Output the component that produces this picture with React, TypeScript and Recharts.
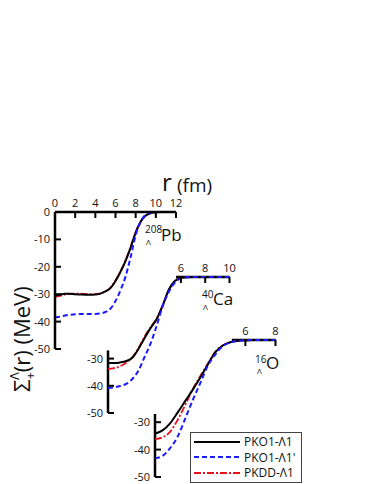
import React from 'react';
import { LineChart, Line, XAxis, YAxis, ReferenceLine, Legend } from 'recharts';

const W = 374;
const H = 484;
const FONT = '"Open Sans", "DejaVu Sans", sans-serif';

// r grids (fm)
const rPb = [0, 0.5, 1, 1.5, 2, 2.5, 3, 3.5, 4, 4.5, 5, 5.5, 6, 6.5, 7, 7.5, 8, 8.5, 9, 9.5, 10, 10.5, 11, 11.5, 12];
const rCa = [0, 0.5, 1, 1.5, 2, 2.5, 3, 3.5, 4, 4.5, 5, 5.5, 6, 6.5, 7, 7.5, 8, 8.5, 9, 9.5, 10];
const rO = [0, 0.5, 1, 1.5, 2, 2.5, 3, 3.5, 4, 4.5, 5, 5.5, 6, 6.5, 7, 7.5, 8];

// 208Pb
const pbPko1 = [-30.5, -30.2, -29.8, -29.8, -30, -30.1, -30.2, -30.2, -30.1, -29.8, -29, -27.8, -25.2, -21.8, -17.8, -13, -7.5, -3.5, -1.3, -0.4, -0.1, 0, 0, 0, 0];
const pbPko1p = [-38.5, -38.2, -37.8, -37.5, -37.3, -37.2, -37.2, -37.2, -37.2, -37, -36.5, -35.3, -32.5, -28.5, -23.5, -16.5, -8.5, -3.5, -1, -0.3, 0, 0, 0, 0, 0];
const pbPkdd = [-31, -30.6, -30.1, -29.9, -29.8, -29.8, -29.9, -30, -30, -29.7, -29, -27.6, -25, -21.6, -17.6, -12.8, -7.4, -3.5, -1.3, -0.4, -0.1, 0, 0, 0, 0];

// 40Ca
const caPko1 = [-31.6, -31.6, -31.4, -30.9, -29.7, -26.5, -22.5, -18.8, -15.5, -10.5, -4.7, -1.5, -0.4, -0.1, 0, 0, 0, 0, 0, 0, 0];
const caPko1p = [-40.8, -40.6, -40.1, -39.3, -37.5, -34.5, -29.5, -24.5, -18, -10.7, -5.5, -2.1, -0.5, -0.1, 0, 0, 0, 0, 0, 0, 0];
const caPkdd = [-33.8, -33.5, -32.8, -31.5, -29.5, -26.2, -22, -18.5, -15.3, -10.5, -4.8, -1.5, -0.4, -0.1, 0, 0, 0, 0, 0, 0, 0];

// 16O
const oPko1 = [-34.2, -33, -30.4, -26.5, -22.3, -18.2, -13.8, -9, -4.5, -2, -0.8, -0.3, -0.1, 0, 0, 0, 0];
const oPko1p = [-43.2, -42.3, -39.5, -35.3, -28.8, -22, -15.8, -9.5, -5.3, -2.3, -0.8, -0.3, -0.1, 0, 0, 0, 0];
const oPkdd = [-36.2, -35.5, -33.5, -29.2, -23.8, -18, -13.2, -8.7, -4.3, -2, -0.8, -0.3, -0.1, 0, 0, 0, 0];

const series = [
  { key: 'a', name: 'PKO1-\u039B1', color: '#000000', dash: undefined as string | undefined, width: 2 },
  { key: 'b', name: "PKO1-\u039B1'", color: '#1a1aff', dash: '5 3', width: 2 },
  { key: 'c', name: 'PKDD-\u039B1', color: '#e8101a', dash: '7 2 2 2', width: 1.8 },
];

const toRows = (r: number[], a: number[], b: number[], c: number[]) =>
  r.map((x, i) => ({ r: x, a: a[i], b: b[i], c: c[i] }));

const AXIS = { stroke: '#000', strokeWidth: 2.5 };
const TICK = { stroke: '#000', strokeWidth: 2 };
const TICK_TEXT = { fontSize: 11, fill: '#111', fontFamily: FONT };

type PanelProps = {
  rows: any[];
  xMax: number;
  x0: number; x1: number; y0: number; y1: number;
  xTicks: number[]; yTicks: number[];
  xSeg?: [number, number];
  ySeg?: [number, number];
  legend?: boolean;
};

const LegendBox = () => (
  <div style={{ border: '1.5px solid #444', background: '#fff', padding: '1px 6px 1px 3px', fontFamily: FONT, fontSize: 12, lineHeight: '15px', color: '#111' }}>
    {series.map(s => (
      <div key={s.key} style={{ display: 'flex', alignItems: 'center', height: 15.5 }}>
        <svg width={46} height={10} style={{ marginRight: 4 }}>
          <line x1={0} y1={5} x2={46} y2={5} stroke={s.color} strokeWidth={s.width} strokeDasharray={s.dash} />
        </svg>
        <span>{s.name}</span>
      </div>
    ))}
  </div>
);

// axes get 1px of room (recharts drops zero-sized axes), the rest is margin
const Panel: React.FC<PanelProps> = p => (
  <div style={{ position: 'absolute', left: 0, top: 0 }}>
    <LineChart width={W} height={H} data={p.rows}
      margin={{ left: p.x0 - 1, right: W - p.x1, top: p.y0 - 1, bottom: H - p.y1 }}>
      <XAxis dataKey="r" type="number" domain={[0, p.xMax]} orientation="top" ticks={p.xTicks} interval={0}
        height={1} tickSize={-6} tickMargin={11} axisLine={p.xSeg ? false : AXIS} tickLine={TICK} tick={TICK_TEXT} />
      <YAxis type="number" domain={[-50, 0]} ticks={p.yTicks} interval={0}
        width={1} tickSize={-6} tickMargin={11} axisLine={p.ySeg ? false : AXIS} tickLine={TICK} tick={TICK_TEXT} />
      {p.xSeg && (
        <ReferenceLine segment={[{ x: p.xSeg[0], y: 0 }, { x: p.xSeg[1], y: 0 }]} stroke="#000" strokeWidth={2.5} ifOverflow="visible" />
      )}
      {p.ySeg && (
        <ReferenceLine segment={[{ x: 0, y: p.ySeg[0] }, { x: 0, y: p.ySeg[1] }]} stroke="#000" strokeWidth={2.5} ifOverflow="visible" />
      )}
      {[series[2], series[0], series[1]].map(s => (
        <Line key={s.key} type="monotone" dataKey={s.key} name={s.name} stroke={s.color} strokeWidth={s.width}
          strokeDasharray={s.dash} dot={false} isAnimationActive={false} />
      ))}
      {p.legend && (
        <Legend layout="vertical" align="center" verticalAlign="middle" content={() => <LegendBox />}
          wrapperStyle={{ left: 190, top: 432, width: 'auto', height: 'auto' }} />
      )}
    </LineChart>
  </div>
);

export default function App() {
  return (
    <div style={{ position: 'absolute', left: 0, top: 0, width: W, height: H, background: '#fff', overflow: 'hidden' }}>
      <Panel rows={toRows(rPb, pbPko1, pbPko1p, pbPkdd)} xMax={12} x0={55} x1={176} y0={212} y1={349}
        xTicks={[0, 2, 4, 6, 8, 10, 12]} yTicks={[0, -10, -20, -30, -40, -50]} />
      <Panel rows={toRows(rCa, caPko1, caPko1p, caPkdd)} xMax={10} x0={108} x1={229.5} y0={277} y1={413}
        xTicks={[6, 8, 10]} yTicks={[-30, -40, -50]} xSeg={[5.6, 10]} ySeg={[-27, -50]} />
      <Panel rows={toRows(rO, oPko1, oPko1p, oPkdd)} xMax={8} x0={155} x1={275.5} y0={340} y1={477}
        xTicks={[6, 8]} yTicks={[-30, -40, -50]} xSeg={[5.1, 8]} ySeg={[-27, -50]} legend />
      <svg width={W} height={H} style={{ position: 'absolute', left: 0, top: 0, pointerEvents: 'none' }} fontFamily={FONT} fill="#111">
        <text x={162} y={191} fontSize={24}>r</text>
        <text x={177} y={192} fontSize={19}>(fm)</text>
        <text transform="translate(30,392) rotate(-90)" fontSize={22}>
          {'\u03A3'}
          <tspan fontSize={13} dy={5}>+</tspan>
          <tspan fontSize={13} dx={-8} dy={-16}>{'\u039B'}</tspan>
          <tspan dy={11}>(r) (MeV)</tspan>
        </text>
        <text x={145} y={233} fontSize={10}>208</text>
        <text x={146} y={245} fontSize={8}>{'\u039B'}</text>
        <text x={161} y={241} fontSize={17}>Pb</text>
        <text x={202} y={298} fontSize={10}>40</text>
        <text x={203} y={310} fontSize={8}>{'\u039B'}</text>
        <text x={213} y={305} fontSize={17}>Ca</text>
        <text x={255} y={363} fontSize={10}>16</text>
        <text x={257} y={374} fontSize={8}>{'\u039B'}</text>
        <text x={266} y={369} fontSize={17}>O</text>
      </svg>
    </div>
  );
}
